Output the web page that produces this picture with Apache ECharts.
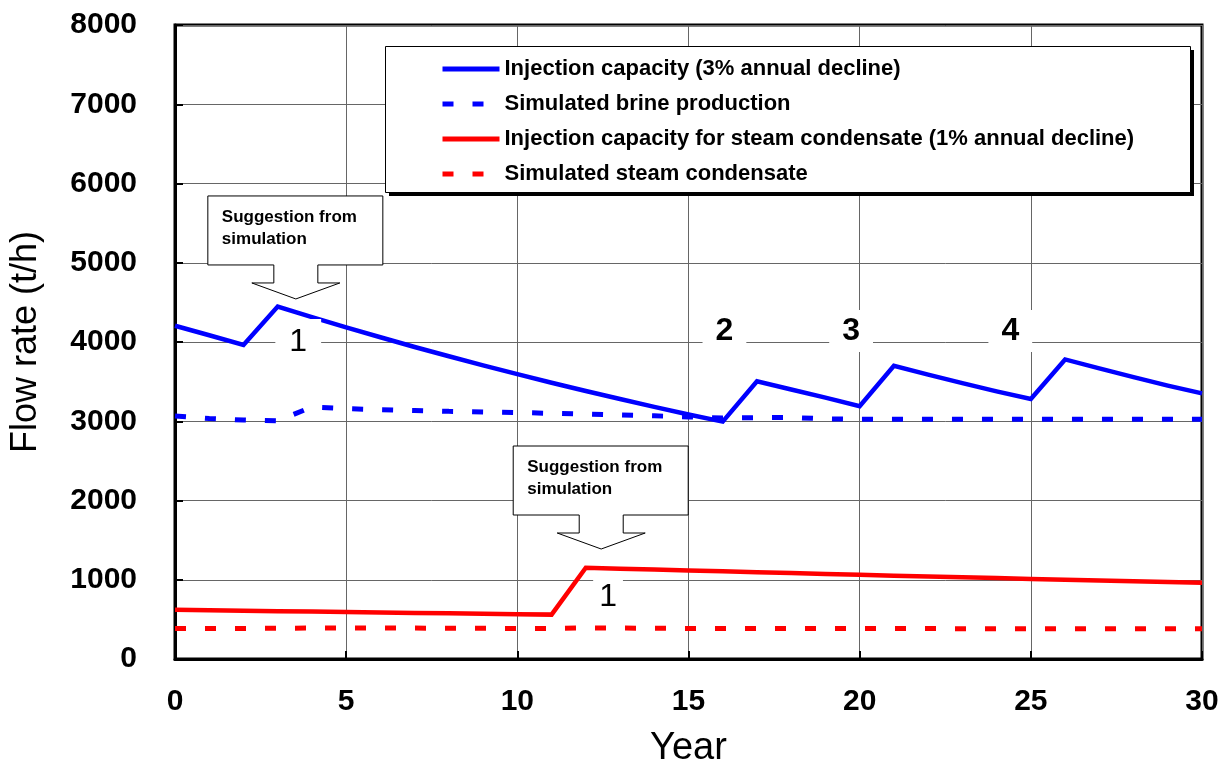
<!DOCTYPE html>
<html>
<head>
<meta charset="utf-8">
<script src="https://cdn.jsdelivr.net/npm/echarts@6/dist/echarts.min.js"></script>
<style>
  html, body { margin: 0; padding: 0; background: #fff; }
  #chart { width: 1222px; height: 767px; }
</style>
</head>
<body>
<div id="chart"></div>
<script>
// Year axis (0 to 30)
const years = [0, 1, 2, 3, 4, 5, 6, 7, 8, 9, 10, 11, 12, 13, 14, 15, 16, 17, 18, 19, 20, 21, 22, 23, 24, 25, 26, 27, 28, 29, 30];

// Brine injection capacity, 3% annual decline, with new wells added in years 3, 17, 21, 26
const brineCapacity = [4205, 4085, 3962, 4447, 4315, 4185, 4060, 3937, 3820, 3705, 3594, 3486, 3381, 3280, 3182, 3086, 2995, 3505, 3400, 3298, 3190, 3700, 3589, 3481, 3377, 3281, 3780, 3667, 3557, 3450, 3352];

// Simulated brine production
const brineSimulated = [3065, 3035, 3015, 3005, 3180, 3160, 3145, 3135, 3125, 3118, 3110, 3100, 3090, 3080, 3068, 3055, 3040, 3045, 3048, 3030, 3025, 3025, 3025, 3025, 3025, 3025, 3025, 3025, 3025, 3025, 3025];

// Condensate injection capacity, 1% annual decline, new well in year 12
const condensateCapacity = [620, 614, 609, 603, 598, 592, 587, 581, 576, 570, 565, 560, 1152, 1140, 1129, 1118, 1107, 1096, 1085, 1074, 1063, 1052, 1042, 1031, 1021, 1011, 1001, 991, 981, 971, 961];

// Simulated steam condensate
const condensateSimulated = [385, 385, 386, 388, 390, 392, 392, 390, 388, 387, 386, 385, 392, 390, 388, 386, 385, 385, 385, 384, 384, 384, 384, 383, 383, 383, 382, 382, 382, 381, 381];

const seriesNames = [
  'Injection capacity (3% annual decline)',
  'Simulated brine production',
  'Injection capacity for steam condensate (1% annual decline)',
  'Simulated steam condensate'
];

// Well-addition markers: [year, flow rate, text, bold]
const wellMarks = [
  [3.6, 4000, '1', false],
  [16.05, 4140, '2', true],
  [19.75, 4140, '3', true],
  [24.4, 4140, '4', true],
  [12.65, 785, '1', false]
];

// Callout arrow tips: [year, flow rate]
const calloutTips = [[3.53, 4543], [12.45, 1388]];
const calloutText = 'Suggestion from\nsimulation';

const BLUE = '#0000ff';
const RED = '#ff0000';
const FONT = '"Liberation Sans", Arial, Helvetica, sans-serif';

// Legend frame (pixels)
const LEGEND_BOX = { x: 385, y: 46, w: 805, h: 146 };

function pairs(ys) { return years.map((x, i) => [x, ys[i]]); }

const chart = echarts.init(document.getElementById('chart'), null, { renderer: 'canvas' });

const option = {
  animation: false,
  backgroundColor: '#fff',
  grid: {
    left: 175, right: 20, top: 25, bottom: 108,
    containLabel: false, outerBoundsMode: 'none',
    show: true, borderColor: '#000', borderWidth: 3, backgroundColor: 'transparent'
  },
  legend: {
    orient: 'vertical',
    left: LEGEND_BOX.x, top: LEGEND_BOX.y,
    padding: [12, 10, 10, 55],
    itemWidth: 57, itemHeight: 12, itemGap: 13,
    z: 10,
    itemStyle: { opacity: 0 },
    lineStyle: { width: 5 },
    textStyle: { fontFamily: FONT, fontWeight: 'bold', fontSize: 22, color: '#000', lineHeight: 22 },
    data: seriesNames
  },
  xAxis: {
    type: 'value', min: 0, max: 30, interval: 5,
    name: 'Year', nameLocation: 'middle', nameGap: 71,
    nameTextStyle: { fontFamily: FONT, fontSize: 38, color: '#000' },
    axisLine: { show: true, lineStyle: { color: '#000', width: 3 } },
    axisTick: { show: true, inside: true, length: 8, lineStyle: { color: '#000', width: 2 } },
    axisLabel: { margin: 28, fontFamily: FONT, fontWeight: 'bold', fontSize: 30, color: '#000', formatter: v => String(v) },
    splitLine: { show: true, lineStyle: { color: '#666', width: 1 } }
  },
  yAxis: {
    type: 'value', min: 0, max: 8000, interval: 1000,
    name: 'Flow rate (t/h)', nameLocation: 'middle', nameGap: 131,
    nameTextStyle: { fontFamily: FONT, fontSize: 36, color: '#000' },
    axisLine: { show: true, lineStyle: { color: '#000', width: 3 } },
    axisTick: { show: true, inside: true, length: 8, lineStyle: { color: '#000', width: 2 } },
    axisLabel: { margin: 38, fontFamily: FONT, fontWeight: 'bold', fontSize: 30, color: '#000', formatter: v => String(v) },
    splitLine: { show: true, lineStyle: { color: '#666', width: 1 } }
  },
  series: [
    {
      name: seriesNames[0], type: 'line', data: pairs(brineCapacity), symbol: 'none', z: 3,
      lineStyle: { color: BLUE, width: 4.5, join: 'miter' }, itemStyle: { color: BLUE }
    },
    {
      name: seriesNames[1], type: 'line', data: pairs(brineSimulated), symbol: 'none', z: 3,
      lineStyle: { color: BLUE, width: 5, type: [11, 19], cap: 'butt' }, itemStyle: { color: BLUE }
    },
    {
      name: seriesNames[2], type: 'line', data: pairs(condensateCapacity), symbol: 'none', z: 3,
      lineStyle: { color: RED, width: 4.5, join: 'miter' }, itemStyle: { color: RED }
    },
    {
      name: seriesNames[3], type: 'line', data: pairs(condensateSimulated), symbol: 'none', z: 3,
      lineStyle: { color: RED, width: 5, type: [11, 19], cap: 'butt' }, itemStyle: { color: RED }
    },
    {
      type: 'scatter', z: 6, silent: true, symbolSize: 1,
      itemStyle: { color: 'rgba(0,0,0,0)', opacity: 1 },
      data: wellMarks.map(m => ({
        value: [m[0], m[1]],
        label: {
          show: true, position: 'inside', formatter: m[2],
          fontFamily: FONT, fontSize: 32, fontWeight: m[3] ? 'bold' : 'normal', color: '#000',
          opacity: 1, textBorderWidth: 0,
          backgroundColor: '#fff', lineHeight: 34,
          padding: m[3] ? [4, 13] : (m[1] > 2000 ? [6, 14] : [4, 6])
        }
      }))
    }
  ]
};

chart.setOption(option);

// Legend frame with a hard drop shadow, and callout boxes pointing at the suggested well additions
function drawGraphics() {
  const elements = [
    {
      type: 'rect', z: 5, silent: true,
      shape: { x: LEGEND_BOX.x + 4, y: LEGEND_BOX.y + 4, width: LEGEND_BOX.w, height: LEGEND_BOX.h },
      style: { fill: '#000' }
    },
    {
      type: 'rect', z: 5, silent: true,
      shape: { x: LEGEND_BOX.x + 0.5, y: LEGEND_BOX.y + 0.5, width: LEGEND_BOX.w, height: LEGEND_BOX.h },
      style: { fill: '#fff', stroke: '#000', lineWidth: 1 }
    }
  ];
  calloutTips.forEach(tip => {
    const [tx, ty] = chart.convertToPixel({ gridIndex: 0 }, tip);
    const L = tx - 88, R = tx + 87, T = ty - 103, B = ty - 34, W = ty - 16;
    const pts = [
      [L, T], [R, T], [R, B], [tx + 22, B], [tx + 22, W], [tx + 44, W],
      [tx, ty], [tx - 44, W], [tx - 22, W], [tx - 22, B], [L, B]
    ];
    elements.push({
      type: 'polygon', z: 100, silent: true,
      shape: { points: pts },
      style: { fill: '#fff', stroke: '#000', lineWidth: 1 }
    });
    elements.push({
      type: 'text', z: 101, silent: true, x: L + 14, y: T + 10,
      style: {
        text: calloutText, fill: '#000', fontFamily: FONT, fontWeight: 'bold',
        fontSize: 17, lineHeight: 22, align: 'left', verticalAlign: 'top'
      }
    });
  });
  chart.setOption({ graphic: { elements } });
}
drawGraphics();
</script>
</body>
</html>
